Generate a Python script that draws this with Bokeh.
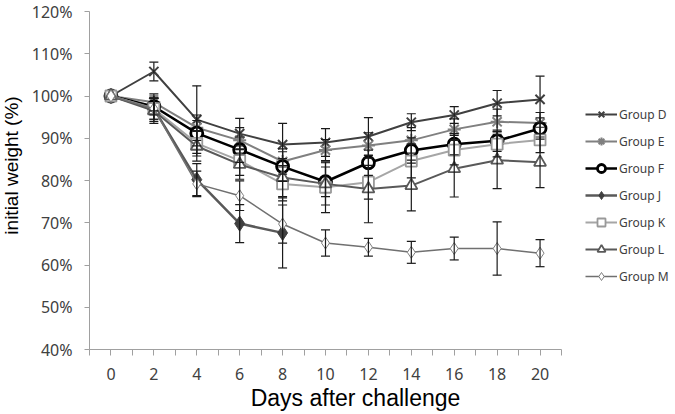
from bokeh.plotting import figure
from bokeh.models import (Range1d, FixedTicker, PrintfTickFormatter, Legend, LegendItem,
                          ColumnDataSource, Whisker, TeeHead, Label)
from bokeh.embed import file_html
from bokeh.resources import INLINE
import math

days = [0, 2, 4, 6, 8, 10, 12, 14, 16, 18, 20]
days_j = [0, 2, 4, 6, 8]

group_d = [100, 105.8, 94.4, 91.1, 88.5, 89.0, 90.4, 93.8, 95.5, 98.3, 99.2]
err_d = [0, 2.2, 8.0, 3.6, 5.0, 3.3, 4.5, 2.0, 2.0, 3.0, 5.5]
group_e = [100, 98.5, 92.5, 89.5, 84.5, 87.2, 88.3, 89.5, 92.1, 93.9, 93.6]
err_e = [0, 2.0, 3.0, 3.0, 3.0, 2.5, 3.0, 3.0, 2.5, 3.0, 2.5]
group_f = [100, 97.5, 91.2, 87.3, 83.3, 79.7, 84.2, 87.1, 88.6, 89.4, 92.3]
err_f = [0, 2.0, 3.0, 3.0, 3.5, 3.5, 3.0, 3.0, 2.5, 2.5, 2.5]
group_j = [100, 97.0, 80.2, 69.8, 67.6]
err_j = [0, 3.0, 3.8, 4.5, 8.3]
group_k = [100, 97.0, 88.8, 84.7, 79.2, 78.4, 79.6, 84.6, 87.2, 88.6, 89.6]
err_k = [0, 2.5, 3.0, 3.5, 4.0, 6.0, 4.0, 4.0, 3.5, 3.0, 3.0]
group_l = [100, 96.5, 88.1, 83.8, 80.7, 79.2, 78.0, 78.8, 82.8, 84.8, 84.3]
err_l = [0, 3.0, 3.5, 3.5, 4.5, 5.0, 8.0, 6.0, 6.7, 6.7, 6.0]
group_m = [100, 97.0, 79.2, 76.4, 69.7, 65.2, 64.2, 63.0, 63.9, 63.9, 62.8]
err_m = [0, 2.5, 3.0, 3.5, 4.5, 3.1, 2.1, 2.6, 2.7, 6.3, 3.2]

y_ticks = [40, 50, 60, 70, 80, 90, 100, 110, 120]
x_tick_labels = ["0", "2", "4", "6", "8", "10", "12", "14", "16", "18", "20"]

x_label = "Days after challenge"
y_label = "initial weight (%)"

W, H = 675, 414
# data <-> pixel layout (axis from x=89..561 px for days -1..21, y=11..349 px for 120..40 %)
px_day = (561 - 89) / 22.0
px_pct = (349 - 11) / 80.0
x0 = -1 - 89 / px_day
x1 = 21 + (W - 561) / px_day
y1 = 120 + 11 / px_pct
y0 = 40 - (H - 349) / px_pct

p = figure(width=W, height=H, output_backend="svg", toolbar_location=None,
           x_range=Range1d(x0, x1), y_range=Range1d(y0, y1),
           min_border=0, min_border_left=0, min_border_right=0,
           min_border_top=0, min_border_bottom=0)
p.outline_line_color = None
p.xgrid.visible = False
p.ygrid.visible = False
p.background_fill_color = "white"
p.border_fill_color = "white"

axis_col = "#a0a0a0"
tick_font = "Noto Sans"

# y axis
p.yaxis.fixed_location = -1
p.yaxis.bounds = (40, 120)
p.yaxis.ticker = FixedTicker(ticks=y_ticks)
p.yaxis.formatter = PrintfTickFormatter(format="%d%%")
p.yaxis.axis_line_color = axis_col
p.yaxis.major_tick_line_color = axis_col
p.yaxis.major_tick_out = 5
p.yaxis.major_tick_in = 0
p.yaxis.minor_tick_line_color = None
p.yaxis.major_label_text_font = tick_font
p.yaxis.major_label_text_font_size = "16px"
p.yaxis.major_label_text_color = "#404040"
p.yaxis.major_label_standoff = 12

# x axis
xt = list(range(-1, 22))
p.xaxis.fixed_location = 40
p.xaxis.bounds = (-1, 21)
p.xaxis.ticker = FixedTicker(ticks=xt)
overrides = {}
for t in xt:
    overrides[t] = ""
for d, lab in zip(days, x_tick_labels):
    overrides[d] = lab
p.xaxis.major_label_overrides = overrides
p.xaxis.axis_line_color = axis_col
p.xaxis.major_tick_line_color = axis_col
p.xaxis.major_tick_out = 6
p.xaxis.major_tick_in = 0
p.xaxis.minor_tick_line_color = None
p.xaxis.major_label_text_font = tick_font
p.xaxis.major_label_text_font_size = "16px"
p.xaxis.major_label_text_color = "#404040"
p.xaxis.major_label_standoff = 12

series = [
    ("Group D", days, group_d, err_d, dict(line_color="#404040", line_width=2),
     dict(marker="x", size=13, line_color="#404040", line_width=2, fill_color=None)),
    ("Group E", days, group_e, err_e, dict(line_color="#808080", line_width=2),
     dict(marker="asterisk", size=13, line_color="#808080", line_width=2, fill_color=None)),
    ("Group F", days, group_f, err_f, dict(line_color="#000000", line_width=2.5),
     dict(marker="circle", size=12, line_color="#000000", line_width=2.8, fill_color="white")),
    ("Group J", days_j, group_j, err_j, dict(line_color="#595959", line_width=2.5),
     dict(marker="diamond", size=15, line_color="#404040", line_width=1, fill_color="#404040")),
    ("Group K", days, group_k, err_k, dict(line_color="#a6a6a6", line_width=2),
     dict(marker="square", size=11, line_color="#999999", line_width=1.8, fill_color="white")),
    ("Group L", days, group_l, err_l, dict(line_color="#595959", line_width=2),
     dict(marker="triangle", size=12, line_color="#595959", line_width=1.8, fill_color="white")),
    ("Group M", days, group_m, err_m, dict(line_color="#707070", line_width=1.5),
     dict(marker="diamond", size=12, line_color="#808080", line_width=1, fill_color="white")),
]

items = []
for name, xs, ys, es, lkw, mkw in series:
    ln = p.line(xs, ys, **lkw)
    sc = p.scatter(xs, ys, **mkw)
    items.append(LegendItem(label=name, renderers=[ln, sc]))
    bx, bu, bl = [], [], []
    for x, y, e in zip(xs, ys, es):
        if e > 0:
            bx.append(x)
            bu.append(y + e)
            bl.append(y - e)
    src = ColumnDataSource(data=dict(base=bx, upper=bu, lower=bl))
    w = Whisker(source=src, base="base", upper="upper", lower="lower", dimension="height",
                line_color="#1a1a1a", line_width=1.2, level="overlay",
                upper_head=TeeHead(size=9, line_color="#1a1a1a", line_width=1.2),
                lower_head=TeeHead(size=9, line_color="#1a1a1a", line_width=1.2))
    p.add_layout(w)

legend = Legend(items=items, location=(585, 128), orientation="vertical",
                glyph_width=32, glyph_height=20, label_height=20, spacing=7,
                label_standoff=2, padding=0, margin=0,
                label_text_font=tick_font, label_text_font_size="12px",
                label_text_color="#404040",
                border_line_color=None, background_fill_alpha=0)
p.add_layout(legend, "center")

p.add_layout(Label(x=(355 - 89) / px_day - 1, y=120 - (397 - 11) / px_pct, text=x_label,
                   text_align="center", text_baseline="middle", text_font="Liberation Sans",
                   text_font_size="23px", text_color="black"))
p.add_layout(Label(x=(11 - 89) / px_day - 1, y=120 - (165 - 11) / px_pct, text=y_label,
                   text_align="center", text_baseline="middle", angle=math.pi / 2,
                   text_font="Liberation Sans", text_font_size="19px", text_color="black"))

open("out.html", "w").write(file_html(p, INLINE))
